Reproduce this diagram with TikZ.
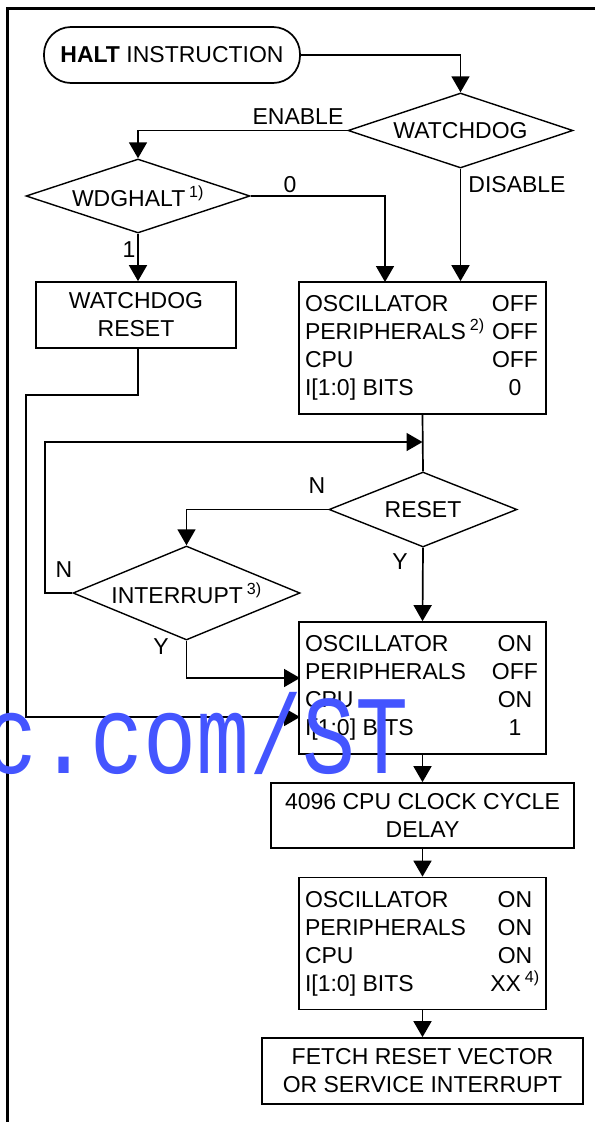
\documentclass[tikz,border=0pt]{standalone}
\usepackage{fontspec}
\setmainfont{Liberation Sans}
\newfontfamily\wmfont{Liberation Mono}
\usetikzlibrary{shapes.geometric,arrows.meta}
\definecolor{wmblue}{RGB}{68,85,255}
\newcommand{\staterow}[2]{\makebox[185pt][l]{#1}\makebox[50pt]{#2}}
\begin{document}
\begin{tikzpicture}[x=1pt,y=-1pt,
   font=\fontsize{23}{28}\selectfont,
   flow/.style={line width=1.7pt,-{Triangle[length=16pt,width=18pt]}},
   link/.style={line width=1.7pt},
   decision/.style={diamond,draw,line width=1.4pt,aspect=3,inner sep=0pt},
   process/.style={rectangle,draw,line width=1.7pt,align=center,inner sep=0pt},
   statebox/.style={rectangle,draw,line width=1.7pt,align=left,inner xsep=6pt,
      minimum width=245pt,minimum height=132pt},
   lbl/.style={inner sep=0pt}]
   \useasboundingbox (0,0) rectangle (595,1122);
   % frame
   \draw [line width=2.6pt] (7.5,1122) |- (595,8.5);
   % nodes
   \node [process,rounded corners=27pt,minimum width=256pt,minimum height=56pt] (halt) at (172,55) {\textbf{HALT} INSTRUCTION};
   \node [decision,minimum width=225pt,minimum height=75pt] (wd) at (460.5,130.5) {WATCHDOG};
   \node [decision,minimum width=224pt,minimum height=74pt] (wdh) at (138,196) {WDGHALT\,\textsuperscript{1)}};
   \node [process,minimum width=200pt,minimum height=66pt] (wdr) at (136,315) {WATCHDOG\\RESET};
   \node [statebox] (box1) at (422.5,348) {\staterow{OSCILLATOR}{OFF}\\
      \staterow{PERIPHERALS\,\textsuperscript{2)}}{OFF}\\
      \staterow{CPU}{OFF}\\
      \staterow{I[1:0] BITS}{0}};
   \node [decision,minimum width=188pt,minimum height=75pt] (rst) at (423,509.5) {RESET};
   \node [decision,minimum width=227pt,minimum height=94pt] (int) at (186.5,593) {INTERRUPT\,\textsuperscript{3)}};
   \node [statebox] (box2) at (422.5,688) {\staterow{OSCILLATOR}{ON}\\
      \staterow{PERIPHERALS}{OFF}\\
      \staterow{CPU}{ON}\\
      \staterow{I[1:0] BITS}{1}};
   \node [process,minimum width=303pt,minimum height=65pt] (delay) at (422.5,815.5) {4096 CPU CLOCK CYCLE\\DELAY};
   \node [statebox] (box3) at (422.5,943.5) {\staterow{OSCILLATOR}{ON}\\
      \staterow{PERIPHERALS}{ON}\\
      \staterow{CPU}{ON}\\
      \staterow{I[1:0] BITS}{XX\,\textsuperscript{4)}}};
   \node [process,minimum width=321pt,minimum height=66pt] (fetch) at (422.5,1071) {FETCH RESET VECTOR\\OR SERVICE INTERRUPT};
   % branch points
   \coordinate (offin) at (385,282);
   \coordinate (rstbend) at (26,395);
   \coordinate (rstin) at (300,717);
   \coordinate (nloop) at (45,442);
   \coordinate (jn) at (422.5,442);
   \coordinate (yin) at (300,678);
   % connectors
   \draw [flow] (halt.east) -| (wd.north);
   \draw [flow] (wd.west) -| (wdh.north);
   \draw [flow] (wd.south) -- (wd.south |- box1.north);
   \draw [flow] (wdh.east) -| (offin);
   \draw [flow] (wdh.south) -- (wdh.south |- wdr.north);
   \draw [flow] (wdh.south |- wdr.south) |- (rstbend) |- (rstin);
   \draw [link] (box1.south) -- (rst.north);
   \draw [flow] (int.west) -| (nloop) -- (jn);
   \draw [flow] (rst.west) -| (int.north);
   \draw [flow] (rst.south) -- (box2.north);
   \draw [flow] (int.south) |- (yin);
   \draw [flow] (box2.south) -- (delay.north);
   \draw [flow] (delay.south) -- (box3.north);
   \draw [flow] (box3.south) -- (fetch.north);
   % labels
   \node [lbl] (lenable) at (298,117) {ENABLE};
   \node [lbl] (ldisable) at (517,185) {DISABLE};
   \node [lbl] (lzero) at (290,185) {0};
   \node [lbl] (lone) at (129,250) {1};
   \node [lbl] (lrstn) at (317,486) {N};
   \node [lbl] (lrsty) at (400,562) {Y};
   \node [lbl] (lintn) at (64,570) {N};
   \node [lbl] (linty) at (161,647) {Y};
   % watermark
   \begin{scope}
      \clip (0,0) rectangle (595,1122);
      \node [lbl,anchor=base west,text=wmblue] (wm) at (-16,773) {\scalebox{0.79}[1]{\wmfont\fontsize{112}{112}\selectfont c.com/ST}};
   \end{scope}
\end{tikzpicture}
\end{document}
